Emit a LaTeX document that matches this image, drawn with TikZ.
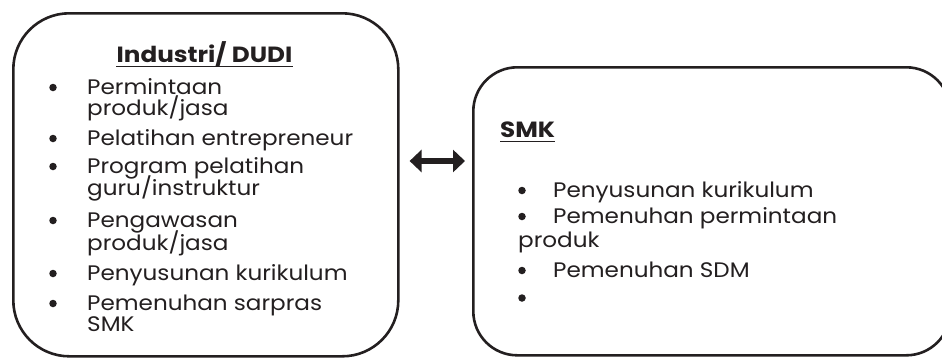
\documentclass[tikz,border=0pt]{standalone}
\usepackage{fontspec}
\setmainfont{Poppins}[BoldFont={* Bold},
  UprightFeatures={FakeStretch=1.1}, BoldFeatures={FakeStretch=1.12}]
\usetikzlibrary{arrows.meta}
\definecolor{ink}{HTML}{231F20}
\begin{document}
\begin{tikzpicture}[x=1pt,y=-1pt,
  panel/.style={draw=ink, line width=2.6pt, fill=white, inner sep=0pt, anchor=north west},
  item/.style={anchor=base west, inner sep=0pt, text=ink, font=\fontsize{21}{25}\selectfont},
  head/.style={anchor=base, inner sep=0pt, text=ink, font=\fontsize{22}{26}\selectfont\bfseries},
  dot/.style={circle, fill=ink, inner sep=0pt, minimum size=7.5pt},
  uline/.style={draw=ink, line width=1.6pt},
  dblarrow/.style={draw=ink, line width=6pt,
    {Triangle[length=12pt,width=22pt]}-{Triangle[length=12pt,width=22pt]}}]
\useasboundingbox (0,0) rectangle (942,357);
\clip (0,0) rectangle (942,357);

% two partner panels
\node[panel, rounded corners=56pt, minimum width=385pt, minimum height=343pt] (L) at (12,12) {};
\node[panel, rounded corners=44pt, minimum width=477pt, minimum height=288pt] (R) at (472,66) {};

% link between the panels
\coordinate (ay) at (0,161);
\draw[dblarrow, shorten <=10pt, shorten >=7pt] (L.east |- ay) -- (R.west |- ay);

% Industri / DUDI
\node[head] (lt) at (204.5,62) {Industri/ DUDI};
\draw[uline] ([yshift=-4.5pt]lt.base west) -- ([yshift=-4.5pt]lt.base east);
\node[dot] (lb1) at (53,87.5) {};
\node[item] (l1a) at (87,94) {Permintaan};
\node[item] (l1b) at (87,115) {produk/jasa};
\node[dot] (lb2) at (53,138.5) {};
\node[item] (l2) at (87,145) {Pelatihan entrepreneur};
\node[dot] (lb3) at (53,166.5) {};
\node[item] (l3a) at (87,173) {Program pelatihan};
\node[item] (l3b) at (87,195) {guru/instruktur};
\node[dot] (lb4) at (53,220.5) {};
\node[item] (l4a) at (87,227) {Pengawasan};
\node[item] (l4b) at (87,250) {produk/jasa};
\node[dot] (lb5) at (53,273.5) {};
\node[item] (l5) at (87,280) {Penyusunan kurikulum};
\node[dot] (lb6) at (53,303.5) {};
\node[item] (l6a) at (87,310) {Pemenuhan sarpras};
\node[item] (l6b) at (87,331) {SMK};

% SMK
\node[head, anchor=base west] (rt) at (500,137) {SMK};
\draw[uline] ([yshift=-4.5pt]rt.base west) -- ([yshift=-4.5pt]rt.base east);
\node[dot] (rb1) at (522,190.5) {};
\node[item] (r1) at (553,197) {Penyusunan kurikulum};
\node[dot] (rb2) at (522,216.5) {};
\node[item] (r2a) at (553,223) {Pemenuhan permintaan};
\node[item] (r2b) at (518,247) {produk};
\node[dot] (rb3) at (522,270.5) {};
\node[item] (r3) at (553,277) {Pemenuhan SDM};
\node[dot] (rb4) at (522,298) {};
\end{tikzpicture}
\end{document}
